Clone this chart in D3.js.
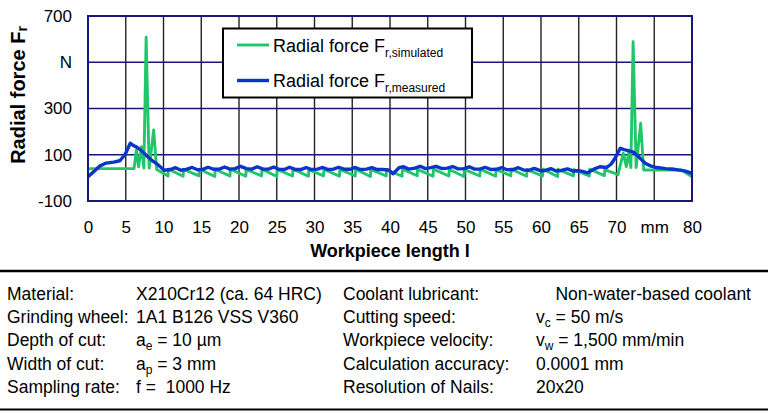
<!DOCTYPE html>
<html>
<head>
<meta charset="utf-8">
<script src="https://cdn.jsdelivr.net/npm/d3@7"></script>
<style>
    html, body { margin: 0; padding: 0; background: #fff; }
    svg { display: block; font-family: Arial, "Liberation Sans", sans-serif; }
    .pre { white-space: pre; }
</style>
</head>
<body>
<div id="chart"></div>
<script>
/* jshint esversion: 6 */

// #############################################################################
// data: [workpiece length in mm, force in N]
var simulatedForce = [
    [0, 40], [6.1, 40], [6.4, 120], [6.7, 48], [7.1, 135], [7.4, 42],
    [7.7, 608], [8.1, 42], [8.7, 207], [9.1, 36], [10.6, 8],
    [10.65, 38], [12.6, 7], [12.65, 37], [14.7, 9], [14.75, 38], [16.8, 6],
    [16.85, 37], [18.8, 8], [18.85, 38], [20.9, 7], [20.95, 36], [23.0, 9],
    [23.05, 38], [25.0, 6], [25.05, 37], [27.1, 8], [27.15, 38], [29.2, 7],
    [29.25, 36], [31.2, 9], [31.25, 38], [33.3, 7], [33.35, 37], [35.4, 8],
    [35.45, 38], [37.4, 6], [37.45, 37], [39.5, 8], [39.55, 36], [41.6, 7],
    [41.65, 38], [43.6, 9], [43.65, 37], [45.7, 7], [45.75, 38], [47.8, 8],
    [47.85, 36], [49.8, 6], [49.85, 37], [51.9, 8], [51.95, 38], [54.0, 7],
    [54.05, 37], [56.0, 9], [56.05, 38], [58.1, 7], [58.15, 36], [60.2, 8],
    [60.25, 38], [62.2, 6], [62.25, 37], [64.3, 9], [64.35, 36], [66.4, 8],
    [66.45, 38], [68.4, 10], [68.45, 36], [70.2, 14], [70.9, 107], [71.3, 48],
    [71.6, 110], [71.9, 45], [72.2, 589], [72.6, 45], [73.2, 236], [73.6, 34],
    [78.6, 34], [80, 5]
];

var measuredForce = [
    [0, 5], [0.8, 28], [1.6, 52], [2.4, 64], [3.4, 68], [4.2, 74], [4.9, 100],
    [5.6, 150], [6.0, 140], [6.5, 132], [7.0, 120], [7.8, 95], [8.6, 72],
    [9.3, 56], [10.1, 33], [10.9, 36], [11.6, 44], [12.3, 33], [13.0, 37],
    [13.8, 45], [14.5, 35], [15.2, 37], [15.9, 46], [16.7, 37], [17.4, 38],
    [18.1, 47], [18.8, 38], [19.5, 40], [20.2, 50], [21.0, 40], [21.7, 38],
    [22.4, 48], [23.2, 38], [23.9, 38], [24.6, 47], [25.3, 37], [26.0, 36],
    [26.7, 46], [27.5, 36], [28.2, 36], [28.9, 45], [29.6, 36], [30.4, 38],
    [31.1, 45], [31.8, 36], [32.5, 38], [33.2, 46], [34.0, 37], [34.7, 37],
    [35.4, 45], [36.1, 36], [36.9, 38], [37.6, 44], [38.3, 36], [39.0, 36],
    [39.8, 34], [40.4, 18], [41.2, 44], [41.8, 48], [42.5, 38], [43.3, 42],
    [44.0, 50], [44.7, 40], [45.4, 44], [46.1, 50], [46.9, 40], [47.6, 42],
    [48.3, 49], [49.0, 39], [49.8, 40], [50.5, 48], [51.2, 38], [51.9, 38],
    [52.6, 46], [53.4, 36], [54.1, 37], [54.8, 44], [55.5, 35], [56.3, 36],
    [57.0, 44], [57.7, 34], [58.4, 33], [59.1, 41], [59.9, 31], [60.6, 32],
    [61.3, 40], [62.0, 30], [62.7, 32], [63.5, 39], [64.2, 30], [64.9, 31],
    [65.5, 28], [66.2, 22], [67.0, 38], [67.8, 48], [68.7, 45], [69.3, 60],
    [69.8, 85], [70.5, 128], [71.0, 122], [71.6, 118], [72.3, 110], [72.8, 95],
    [73.8, 63], [74.5, 52], [75.1, 46], [76.5, 40], [77.7, 37], [79.0, 30],
    [80, 20]
];

var xTickValues = [0, 5, 10, 15, 20, 25, 30, 35, 40, 45, 50, 55, 60, 65, 70, 75, 80];
var xTickLabels = ["0", "5", "10", "15", "20", "25", "30", "35", "40", "45",
                   "50", "55", "60", "65", "70", "mm", "80"];
var yTickValues = [-100, 100, 300, 500, 700];
var yTickLabels = ["-100", "100", "300", "N", "700"];

var seriesNames = ["r,simulated", "r,measured"];

// table under the chart: label / value pairs, left and right half
// value parts given as [main, subscript, rest]
var tableLeftLabels  = ["Material:", "Grinding wheel:", "Depth of cut:", "Width of cut:", "Sampling rate:"];
var tableLeftValues  = [["X210Cr12 (ca. 64 HRC)", "", ""], ["1A1 B126 VSS V360", "", ""],
                        ["a", "e", " = 10 µm"], ["a", "p", " = 3 mm"], ["f =  1000 Hz", "", ""]];
var tableRightLabels = ["Coolant lubricant:", "Cutting speed:", "Workpiece velocity:",
                        "Calculation accuracy:", "Resolution of Nails:"];
var tableRightValues = [["    Non-water-based coolant", "", ""], ["v", "c", " = 50 m/s"],
                        ["v", "w", " = 1,500 mm/min"], ["0.0001 mm", "", ""], ["20x20", "", ""]];

(function()
{
    "use strict";

    var W = 768, H = 414;
    var green = "#21c66b", blue = "#0a35c8";
    var navy = "#17177a";

    var svg = d3.select("#chart")
                .append("svg")
                .attr("width", W)
                .attr("height", H);

    // #########################################################################
    var xScale = d3.scaleLinear().domain([0, 80]).range([88, 692]);
    var yScale = d3.scaleLinear().domain([-100, 700]).range([201, 16]);
    // #########################################################################

    // grid: vertical lines dark grey, horizontal ones navy
    svg.append("g")
        .selectAll("line")
        .data(xTickValues.slice(1, -1))
        .enter().append("line")
            .attr("x1", function(d) { return xScale(d); })
            .attr("x2", function(d) { return xScale(d); })
            .attr("y1", yScale(700))
            .attr("y2", yScale(-100))
            .attr("stroke", "#222")
            .attr("stroke-width", 1.4);

    svg.append("g")
        .selectAll("line")
        .data(yTickValues.slice(1, -1))
        .enter().append("line")
            .attr("x1", xScale(0))
            .attr("x2", xScale(80))
            .attr("y1", function(d) { return yScale(d); })
            .attr("y2", function(d) { return yScale(d); })
            .attr("stroke", navy)
            .attr("stroke-width", 1.5);

    // #########################################################################
    var line = d3.line()
                 .x(function(d) { return xScale(d[0]); })
                 .y(function(d) { return yScale(d[1]); });

    svg.append("path")
        .datum(simulatedForce)
        .attr("d", line)
        .attr("fill", "none")
        .attr("stroke", green)
        .attr("stroke-width", 2.9)
        .attr("stroke-linejoin", "round");

    svg.append("path")
        .datum(measuredForce)
        .attr("d", line)
        .attr("fill", "none")
        .attr("stroke", blue)
        .attr("stroke-width", 3.4)
        .attr("stroke-linejoin", "round");
    // #########################################################################

    // plot frame
    svg.append("rect")
        .attr("x", xScale(0))
        .attr("y", yScale(700))
        .attr("width", xScale(80) - xScale(0))
        .attr("height", yScale(-100) - yScale(700))
        .attr("fill", "none")
        .attr("stroke", navy)
        .attr("stroke-width", 2);

    // axes, labels only
    var xAxis = d3.axisBottom(xScale)
                  .tickValues(xTickValues)
                  .tickSize(0)
                  .tickPadding(20)
                  .tickFormat(function(d, i) { return xTickLabels[i]; });
    var yAxis = d3.axisLeft(yScale)
                  .tickValues(yTickValues)
                  .tickSize(0)
                  .tickPadding(16)
                  .tickFormat(function(d, i) { return yTickLabels[i]; });

    var gx = svg.append("g")
                .attr("transform", `translate(0, ${yScale(-100)})`)
                .call(xAxis);
    var gy = svg.append("g")
                .attr("transform", `translate(${xScale(0)}, 0)`)
                .call(yAxis);
    [gx, gy].forEach(function(g) {
        g.select(".domain").remove();
        g.selectAll("text")
            .attr("font-family", "Arial, 'Liberation Sans', sans-serif")
            .attr("font-size", 17)
            .attr("fill", "#000");
    });

    // axis titles
    svg.append("text")
        .attr("x", 390)
        .attr("y", 257)
        .attr("text-anchor", "middle")
        .attr("font-size", 18)
        .attr("font-weight", "bold")
        .text("Workpiece length l");

    var yt = svg.append("text")
                .attr("transform", "translate(25, 95) rotate(-90)")
                .attr("text-anchor", "middle")
                .attr("font-size", 20)
                .attr("font-weight", "bold");
    yt.append("tspan").text("Radial force F");
    yt.append("tspan").attr("font-size", 14).attr("dy", 2).text("r");

    // #########################################################################
    // legend
    var lg = svg.append("g");
    lg.append("rect")
        .attr("x", 223).attr("y", 28.5)
        .attr("width", 249).attr("height", 69)
        .attr("fill", "#fff")
        .attr("stroke", "#000")
        .attr("stroke-width", 2);

    [green, blue].forEach(function(c, i) {
        var ly = 45 + i * 35.5;
        lg.append("line")
            .attr("x1", 237).attr("x2", 269)
            .attr("y1", ly).attr("y2", ly)
            .attr("stroke", c)
            .attr("stroke-width", i === 0 ? 2.9 : 3.4);
        var t = lg.append("text")
                  .attr("x", 273)
                  .attr("y", ly + 6.5)
                  .attr("font-size", 18);
        t.append("tspan").text("Radial force F");
        t.append("tspan").attr("font-size", 12).attr("dy", 5).text(seriesNames[i]);
    });
    // #########################################################################

    // table below
    svg.append("line")
        .attr("x1", 0).attr("x2", W)
        .attr("y1", 271).attr("y2", 271)
        .attr("stroke", "#000").attr("stroke-width", 2.5);
    svg.append("line")
        .attr("x1", 0).attr("x2", W)
        .attr("y1", 409.5).attr("y2", 409.5)
        .attr("stroke", "#000").attr("stroke-width", 2);

    var rowY = function(i) { return 299.5 + i * 23.4; };

    function cell(x, y, parts) {
        var t = svg.append("text")
                   .attr("class", "pre")
                   .attr("x", x)
                   .attr("y", y)
                   .attr("font-size", 17.5);
        t.append("tspan").text(parts[0]);
        if (parts[1]) {
            t.append("tspan").attr("font-size", 12).attr("dy", 4).text(parts[1]);
            t.append("tspan").attr("dy", -4).text(parts[2]);
        }
    }

    tableLeftLabels.forEach(function(s, i) { cell(7, rowY(i), [s, "", ""]); });
    tableLeftValues.forEach(function(p, i) { cell(136, rowY(i), p); });
    tableRightLabels.forEach(function(s, i) { cell(343, rowY(i), [s, "", ""]); });
    tableRightValues.forEach(function(p, i) { cell(536, rowY(i), p); });
}
)();
// #############################################################################
</script>
</body>
</html>
